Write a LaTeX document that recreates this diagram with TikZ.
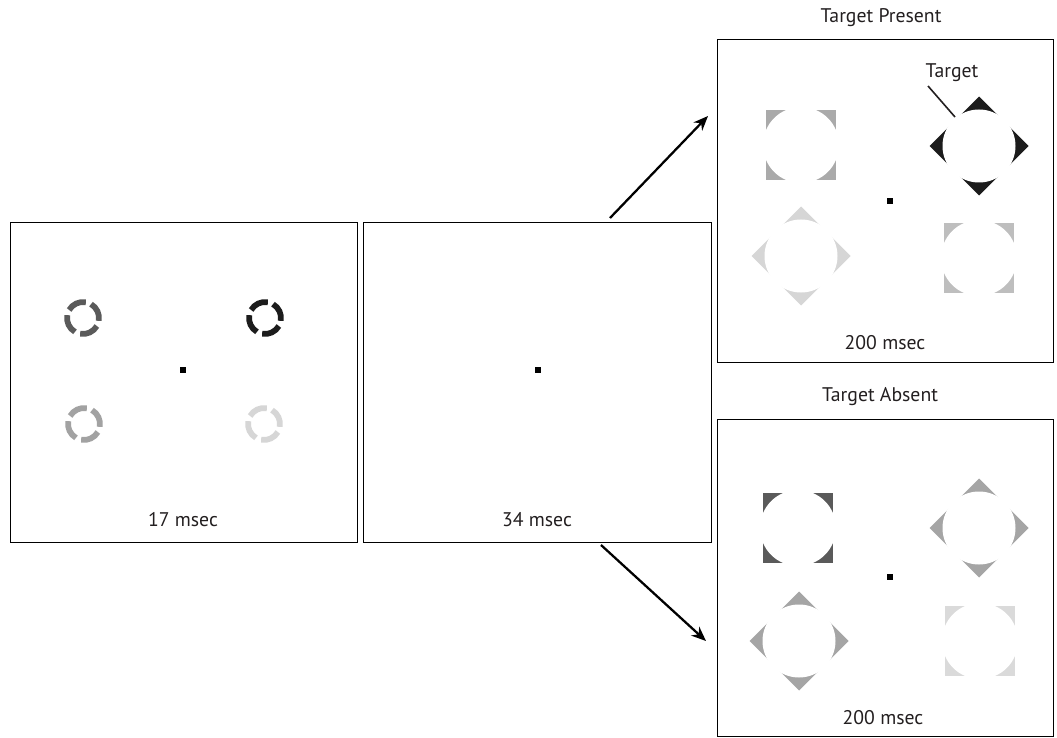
\documentclass[tikz,border=0pt]{standalone}
\usepackage{fontspec}
\setmainfont{PT Sans}
\usetikzlibrary{arrows.meta}
\definecolor{ink}{HTML}{231F20}
\definecolor{gA}{HTML}{5A5A5A}
\definecolor{gB}{HTML}{1C1C1C}
\definecolor{gC}{HTML}{A2A2A2}
\definecolor{gD}{HTML}{D6D6D6}
\definecolor{gE}{HTML}{AAAAAA}
\definecolor{gF}{HTML}{BEBEBE}
\definecolor{gG}{HTML}{A5A5A5}
\definecolor{gH}{HTML}{DADADA}
\newcommand\dashring[3]{%
  \foreach \a in {80,170,260,350}{%
    \draw[line width=4.3pt,#3] (#1,#2) ++(-\a:16) arc[start angle=-\a, end angle=-\a-70, radius=16];}}
\newcommand\sqcirc[5]{%
  \begin{scope}[shift={(#1,#2)},rotate=#4]
    \fill[#3] (-35,-35) rectangle (35,35);
    \fill[white] (0,0) circle[radius=#5];
  \end{scope}}
\begin{document}
\begin{tikzpicture}[x=0.75pt,y=-0.75pt,
  panel/.style={draw=black,line width=0.8pt,inner sep=0pt,anchor=north west},
  lbl/.style={text=ink,font=\fontsize{14.8}{17}\selectfont,inner sep=0pt},
  fix/.style={fill=black,inner sep=0pt,minimum size=3.8pt},
  arr/.style={line width=1.7pt,-{Stealth[length=11pt,width=9pt]}}]
\useasboundingbox (0,0) rectangle (1057,738);
\fill[white] (0,0) rectangle (1057,738);
% panels
\node[panel,minimum width=260.25pt,minimum height=240pt] (p1) at (10,222) {};
\node[panel,minimum width=261pt,minimum height=240pt] (p2) at (363,222) {};
\node[panel,minimum width=252pt,minimum height=242.25pt] (p3) at (717,39) {};
\node[panel,minimum width=252pt,minimum height=237.75pt] (p4) at (717,419) {};
% panel 1
\dashring{83}{318}{gA}
\dashring{265}{318}{gB}
\dashring{84}{424}{gC}
\dashring{264}{424}{gD}
\node[fix] (f1) at (183,370) {};
\node[lbl] (t1) at (183,520) {17 msec};
% panel 2
\node[fix] (f2) at (538,370) {};
\node[lbl] (t2) at (537,520) {34 msec};
% target present
\node[lbl] (h3) at (881,18) {Target Present};
\sqcirc{801}{145}{gE}{0}{38}
\sqcirc{979}{146}{gB}{45}{36.5}
\sqcirc{801}{256}{gD}{45}{36.5}
\sqcirc{979}{258}{gF}{0}{38}
\node[fix] (f3) at (890,201) {};
\node[lbl] (t3) at (885,343) {200 msec};
\node[lbl] (tg) at (952,73) {Target};
\coordinate (tgend) at (955,117);
\draw[line width=1.2pt,ink] (928,86) -- (tgend);
% target absent
\node[lbl] (h4) at (880,397) {Target Absent};
\sqcirc{798}{528}{gA}{0}{38}
\sqcirc{979}{528}{gG}{45}{36.5}
\sqcirc{799}{641}{gG}{45}{36.5}
\sqcirc{980}{641}{gH}{0}{38}
\node[fix] (f4) at (890,577) {};
\node[lbl] (t4) at (883,718) {200 msec};
% arrows
\coordinate (a1s) at (610,218);
\coordinate (a1e) at (708,116);
\coordinate (a2s) at (601,545);
\coordinate (a2e) at (706,641);
\draw[arr] (a1s) -- (a1e);
\draw[arr] (a2s) -- (a2e);
\end{tikzpicture}
\end{document}
